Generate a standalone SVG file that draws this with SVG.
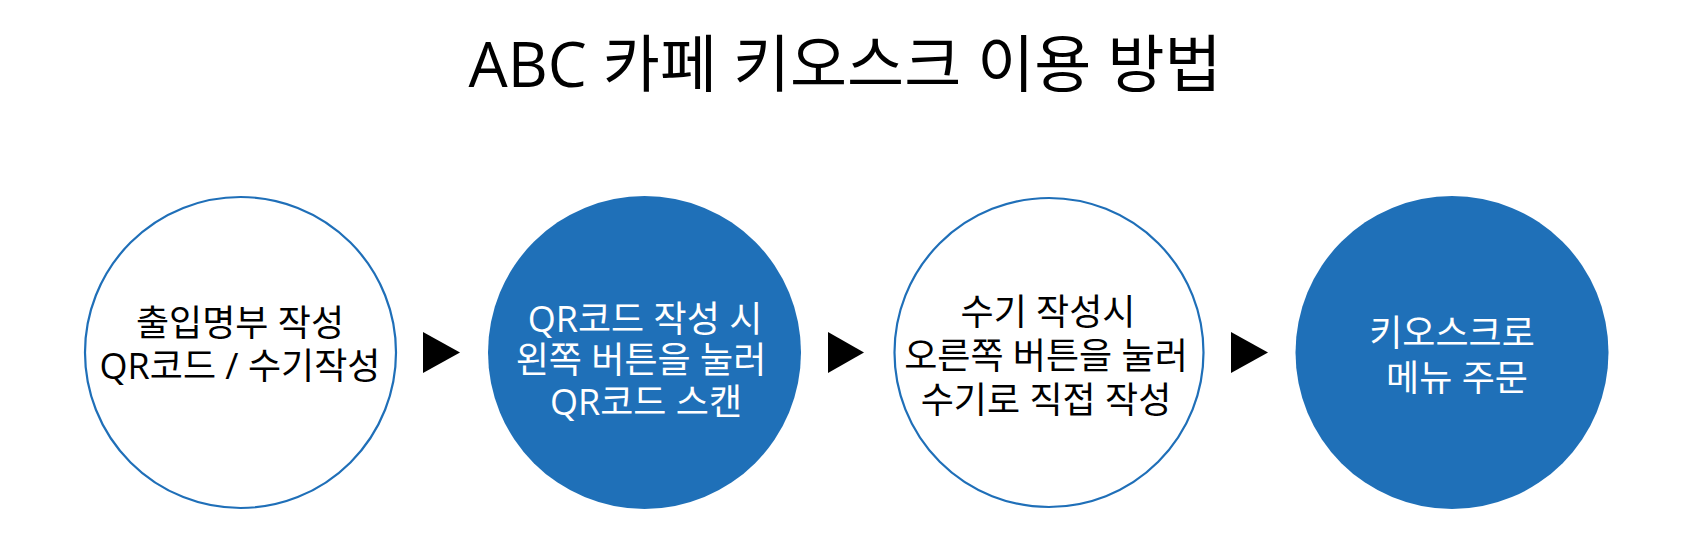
<svg xmlns="http://www.w3.org/2000/svg" width="1687" height="560" viewBox="0 0 1687 560">
<style>
.t{font-family:"Open Sans","Noto Sans CJK KR",sans-serif;text-anchor:middle}
.title{font-size:62px;fill:#000}
.lb{font-size:36px;fill:#000}
.lw{font-size:36px;fill:#fff}
.ring{fill:#fff;stroke:#1f6fb8;stroke-width:2.2}
.disc{fill:#1f70b8}
.arr{fill:#000}
</style>
<rect width="1687" height="560" fill="#fff"/>
<text class="t title" x="845" y="87">ABC 카페 키오스크 이용 방법</text>
<g id="node1">
<circle class="ring" cx="240.5" cy="352.5" r="155.5"/>
<text class="t lb" x="240" y="336">출입명부 작성</text>
<text class="t lb" x="240" y="379">QR코드 / 수기작성</text>
</g>
<g id="node2">
<circle class="disc" cx="644.5" cy="352.5" r="156.5"/>
<text class="t lw" x="645" y="332">QR코드 작성 시</text>
<text class="t lw" x="641" y="373">왼쪽 버튼을 눌러</text>
<text class="t lw" x="646" y="415">QR코드 스캔</text>
</g>
<g id="node3">
<circle class="ring" cx="1049" cy="352.5" r="154.5"/>
<text class="t lb" x="1048" y="325">수기 작성시</text>
<text class="t lb" x="1046" y="369">오른쪽 버튼을 눌러</text>
<text class="t lb" x="1046" y="413">수기로 직접 작성</text>
</g>
<g id="node4">
<circle class="disc" cx="1452" cy="352.5" r="156.5"/>
<text class="t lw" x="1452" y="346">키오스크로</text>
<text class="t lw" x="1457" y="391">메뉴 주문</text>
</g>
<g id="connectors">
<polygon class="arr" points="423,332 460,352.5 423,373"/>
<polygon class="arr" points="828,332 864,352.5 828,373"/>
<polygon class="arr" points="1231,332 1268,352.5 1231,373"/>
</g>
</svg>
